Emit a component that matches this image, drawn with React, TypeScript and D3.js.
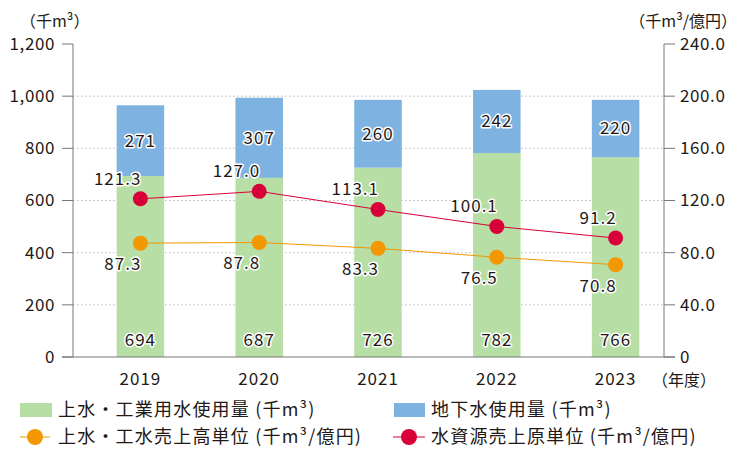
import * as React from 'react';
import * as d3 from 'd3';

const years = ['2019', '2020', '2021', '2022', '2023'];
const surfaceWater = [694, 687, 726, 782, 766];
const groundWater = [271, 307, 260, 242, 220];
const salesUnit = [87.3, 87.8, 83.3, 76.5, 70.8];
const costUnit = [121.3, 127.0, 113.1, 100.1, 91.2];
const leftTicks = [0, 200, 400, 600, 800, 1000, 1200];
const rightTicks = [0, 40, 80, 120, 160, 200, 240];

const FONT = '"Noto Sans CJK JP", "Noto Sans", sans-serif';
const TEXT = '#231815';
const GREEN = '#b6dea5';
const BLUE = '#7eb2e0';
const ORANGE = '#f39800';
const RED = '#d9003a';

const W = 740;
const H = 460;
const axisL = 73;
const axisR = 664;

const x = d3.scaleBand<string>().domain(years).range([81, 675]).paddingInner(0.6).paddingOuter(0.3);
const yL = d3.scaleLinear().domain([0, 1200]).range([357, 44]);
const yR = d3.scaleLinear().domain([0, 240]).range([357, 44]);
const cx = (y: string) => (x(y) as number) + x.bandwidth() / 2;

const halo = {stroke: '#fff', strokeWidth: 3, paintOrder: 'stroke' as const, strokeLinejoin: 'round' as const};

const App = () => {
  const lineSales = d3.line<number>().x((_, i) => cx(years[i])).y(d => yR(d));
  const lineCost = d3.line<number>().x((_, i) => cx(years[i])).y(d => yR(d));
  const fmtL = d3.format(',d');

  return (
    <svg width={W} height={H} style={{display: 'block', position: 'absolute', left: 0, top: 0}}
         fontFamily={FONT} fill={TEXT}>
      {/* grid */}
      {leftTicks.filter(t => t > 0 && t < 1200).map(t => (
        <line key={t} x1={axisL} x2={axisR} y1={yL(t)} y2={yL(t)} stroke="#bbb" strokeDasharray="1.5,2.5"/>
      ))}

      {/* bars */}
      {years.map((yr, i) => {
        const g0 = yL(surfaceWater[i]);
        const top = yL(surfaceWater[i] + groundWater[i]);
        return (
          <g key={yr} fontSize={17} letterSpacing={1}>
            <rect x={x(yr)} y={g0} width={x.bandwidth()} height={yL(0) - g0} fill={GREEN}/>
            <rect x={x(yr)} y={top} width={x.bandwidth()} height={g0 - top} fill={BLUE}/>
            <text x={cx(yr)} y={(top + g0) / 2} dy="0.35em" textAnchor="middle" {...halo}>
              {groundWater[i]}
            </text>
            <text x={cx(yr)} y={yL(0) - 17} dy="0.35em" textAnchor="middle" {...halo}>
              {surfaceWater[i]}
            </text>
          </g>
        );
      })}

      {/* axes */}
      <line x1={axisL} x2={axisL} y1={yL(1200)} y2={yL(0)} stroke="#777"/>
      <line x1={axisR} x2={axisR} y1={yR(240)} y2={yR(0)} stroke="#777"/>
      <line x1={axisL - 11} x2={axisR + 11} y1={yL(0)} y2={yL(0)} stroke="#777"/>
      <g fontSize={17} letterSpacing={0.6}>
        {leftTicks.map(t => (
          <g key={t}>
            <line x1={axisL - 11} x2={axisL} y1={yL(t)} y2={yL(t)} stroke="#777"/>
            <text x={axisL - 18} y={yL(t)} dy="0.35em" textAnchor="end">{fmtL(t)}</text>
          </g>
        ))}
        {rightTicks.map(t => (
          <g key={t}>
            <line x1={axisR} x2={axisR + 11} y1={yR(t)} y2={yR(t)} stroke="#777"/>
            <text x={axisR + 16} y={yR(t)} dy="0.35em">{t === 0 ? '0' : t.toFixed(1)}</text>
          </g>
        ))}
      </g>
      <text x={20} y={21} dy="0.35em" fontSize={16}>（千m³）</text>
      <text x={737} y={21} dy="0.35em" textAnchor="end" fontSize={16}>（千m³/億円）</text>
      {years.map(yr => (
        <text key={yr} x={cx(yr)} y={379} dy="0.35em" textAnchor="middle" fontSize={17} letterSpacing={1}>{yr}</text>
      ))}
      <text x={652} y={380} dy="0.35em" fontSize={16}>（年度）</text>

      {/* lines */}
      <path d={lineSales(salesUnit) || ''} fill="none" stroke={ORANGE} strokeWidth={1}/>
      <path d={lineCost(costUnit) || ''} fill="none" stroke={RED} strokeWidth={1}/>
      {years.map((yr, i) => (
        <g key={yr} fontSize={17} letterSpacing={1}>
          <circle cx={cx(yr)} cy={yR(salesUnit[i])} r={7.5} fill={ORANGE}/>
          <circle cx={cx(yr)} cy={yR(costUnit[i])} r={7.5} fill={RED}/>
          <text x={cx(yr) + 1} y={yR(salesUnit[i]) + 21} dy="0.35em" textAnchor="end" {...halo}>
            {salesUnit[i].toFixed(1)}
          </text>
          <text x={cx(yr) + 1} y={yR(costUnit[i]) - 20} dy="0.35em" textAnchor="end" {...halo}>
            {costUnit[i].toFixed(1)}
          </text>
        </g>
      ))}

      {/* legend */}
      <g fontSize={18} letterSpacing={1.2}>
        <rect x={20} y={403} width={32} height={14} fill={GREEN}/>
        <text x={58} y={410} dy="0.35em">上水・工業用水使用量 (千m³)</text>
        <rect x={394} y={403} width={31} height={14} fill={BLUE}/>
        <text x={431} y={410} dy="0.35em">地下水使用量 (千m³)</text>
        <line x1={20} x2={50} y1={437} y2={437} stroke={ORANGE}/>
        <circle cx={35} cy={437} r={8} fill={ORANGE}/>
        <text x={58} y={437} dy="0.35em">上水・工水売上高単位 (千m³/億円)</text>
        <line x1={393} x2={425} y1={437} y2={437} stroke={RED}/>
        <circle cx={409} cy={437} r={8} fill={RED}/>
        <text x={431} y={437} dy="0.35em">水資源売上原単位 (千m³/億円)</text>
      </g>
    </svg>
  );
};

export default App;
